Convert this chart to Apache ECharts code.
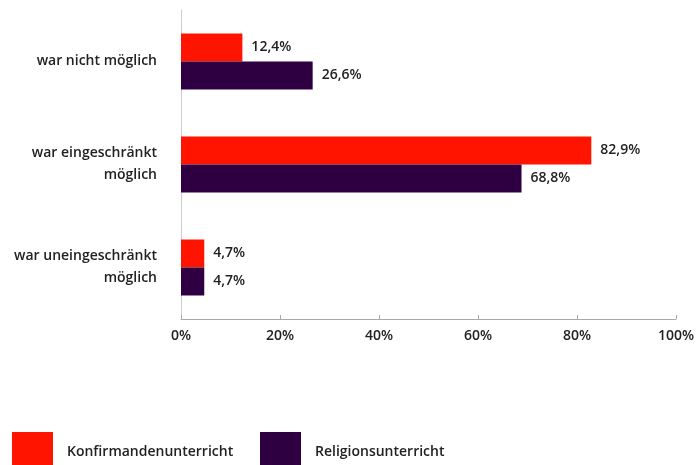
<!DOCTYPE html>
<html>
<head>
<meta charset="utf-8">
<script src="https://cdn.jsdelivr.net/npm/echarts@6/dist/echarts.min.js"></script>
<style>
  html, body { margin: 0; padding: 0; background: #fff; }
  #chart { width: 697px; height: 465px; }
</style>
</head>
<body>
<div id="chart"></div>
<script>
'use strict';

// Kategorien (von oben nach unten)
const categories = ['war nicht möglich', 'war eingeschränkt\nmöglich', 'war uneingeschränkt\nmöglich'];
const seriesNames = ['Konfirmandenunterricht', 'Religionsunterricht'];
const konfirmanden = [12.4, 82.9, 4.7];
const religion = [26.6, 68.8, 4.7];
const xTicks = [0, 20, 40, 60, 80, 100];

const red = '#ff1400';
const purple = '#2e0042';
const font = 'Open Sans';

const fmt = (v) => v.toFixed(1).replace('.', ',') + '%';

const labelStyle = {
  show: true,
  position: 'right',
  distance: 9,
  color: '#222',
  fontFamily: font,
  fontWeight: 600,
  fontSize: 14,
  formatter: (p) => fmt(p.value)
};

const chart = echarts.init(document.getElementById('chart'));

chart.setOption({
  animation: false,
  grid: { left: 181, right: 18, top: 10, height: 309 },
  xAxis: {
    type: 'value',
    min: xTicks[0],
    max: xTicks[xTicks.length - 1],
    interval: 20,
    axisLine: { show: true, lineStyle: { color: '#aaa', width: 1 } },
    axisTick: { show: true, inside: true, length: 4, lineStyle: { color: '#aaa' } },
    splitLine: { show: false },
    axisLabel: {
      margin: 10,
      color: '#222',
      fontFamily: font,
      fontWeight: 600,
      fontSize: 14,
      formatter: (v) => v + '%'
    }
  },
  yAxis: {
    type: 'category',
    inverse: true,
    data: categories,
    axisLine: { show: true, lineStyle: { color: '#ccc' } },
    axisTick: { show: false },
    axisLabel: {
      margin: 24,
      color: '#222',
      fontFamily: font,
      fontWeight: 600,
      fontSize: 14,
      lineHeight: 22,
      align: 'right'
    }
  },
  legend: [
    {
      data: [seriesNames[0]],
      left: 12, top: 432, padding: 0,
      itemWidth: 41, itemHeight: 41,
      icon: 'rect',
      textStyle: { color: '#222', fontFamily: font, fontWeight: 600, fontSize: 14, padding: [0, 0, 0, 9] }
    },
    {
      data: [seriesNames[1]],
      left: 260, top: 432, padding: 0,
      itemWidth: 41, itemHeight: 41,
      icon: 'rect',
      textStyle: { color: '#222', fontFamily: font, fontWeight: 600, fontSize: 14, padding: [0, 0, 0, 9] }
    }
  ],
  series: [
    {
      name: seriesNames[0],
      type: 'bar',
      data: konfirmanden,
      barWidth: 28,
      barGap: '0%',
      itemStyle: { color: red },
      label: labelStyle
    },
    {
      name: seriesNames[1],
      type: 'bar',
      data: religion,
      barWidth: 28,
      barGap: '0%',
      itemStyle: { color: purple },
      label: labelStyle
    }
  ]
});
</script>
</body>
</html>
